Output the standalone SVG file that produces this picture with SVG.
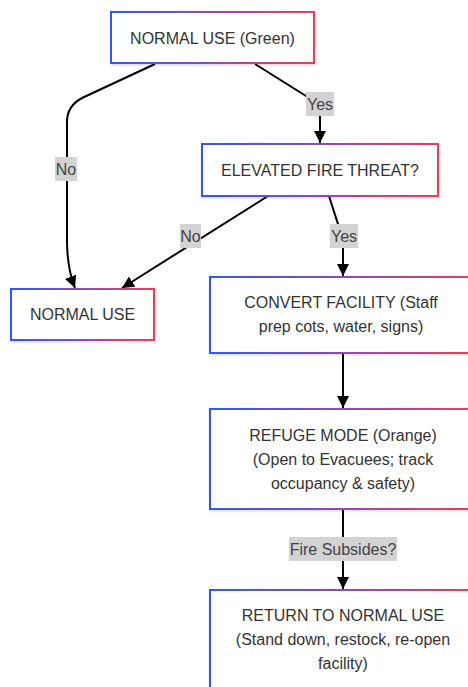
<svg xmlns="http://www.w3.org/2000/svg" width="468" height="687" viewBox="0 0 468 687">
  <defs>
    <linearGradient id="edgeGrad" x1="0" y1="0" x2="1" y2="0">
      <stop offset="0" stop-color="#3557ee"/>
      <stop offset="0.5" stop-color="#8a4fb0"/>
      <stop offset="1" stop-color="#e8405a"/>
    </linearGradient>
    <filter id="shadow" x="-10%" y="-20%" width="120%" height="140%">
      <feDropShadow dx="1" dy="1" stdDeviation="1.5" flood-color="#000" flood-opacity="0.18"/>
    </filter>
    <marker id="arrow" viewBox="0 0 10 10" refX="10" refY="5" markerWidth="12" markerHeight="12" markerUnits="userSpaceOnUse" orient="auto">
      <path d="M0,0 L10,5 L0,10 z" fill="#000"/>
    </marker>
  </defs>
  <style>
    .box { fill: #fff; stroke: url(#edgeGrad); stroke-width: 2; filter: url(#shadow); }
    .txt { font-family: "Liberation Sans", Arial, sans-serif; font-size: 16px; fill: #333; text-anchor: middle; }
    .edge { fill: none; stroke: #000; stroke-width: 2; marker-end: url(#arrow); }
    .lblbg { fill: #d3d3d3; }
    .lbl { font-family: "Liberation Sans", Arial, sans-serif; font-size: 16px; fill: #444; text-anchor: middle; }
  </style>

  <rect width="468" height="687" fill="#fff"/>

  <!-- connectors -->
  <g id="edges">
    <path class="edge" d="M255,64 L306,96 Q320,105 320,118 L320,143"/>
    <path class="edge" d="M155,64 L82,98 Q67,106 67,122 L67,240 Q67,268 75,288"/>
    <path class="edge" d="M268,196 L122,288"/>
    <path class="edge" d="M329,196 L338,224 Q343,234 343,246 L343,276"/>
    <path class="edge" d="M343,353 L343,408"/>
    <path class="edge" d="M343,509 L343,589"/>

    <g id="lbl-yes1">
      <rect class="lblbg" x="306" y="92" width="28" height="24"/>
      <text class="lbl" x="320" y="109.5">Yes</text>
    </g>
    <g id="lbl-no1">
      <rect class="lblbg" x="55" y="157" width="22" height="24"/>
      <text class="lbl" x="66" y="174.5">No</text>
    </g>
    <g id="lbl-no2">
      <rect class="lblbg" x="180" y="224" width="21" height="24"/>
      <text class="lbl" x="190.5" y="241.5">No</text>
    </g>
    <g id="lbl-yes2">
      <rect class="lblbg" x="330" y="224" width="28" height="24"/>
      <text class="lbl" x="344" y="241.5">Yes</text>
    </g>
    <g id="lbl-subsides">
      <rect class="lblbg" x="289" y="537" width="108" height="24"/>
      <text class="lbl" x="343" y="554.5">Fire Subsides?</text>
    </g>
  </g>

  <!-- nodes -->
  <g id="node-normal-green">
    <rect class="box" x="111" y="12" width="203" height="51"/>
    <text class="txt" x="212.5" y="43.5">NORMAL USE (Green)</text>
  </g>

  <g id="node-elevated">
    <rect class="box" x="202" y="144" width="236" height="52"/>
    <text class="txt" x="320" y="175.5">ELEVATED FIRE THREAT?</text>
  </g>

  <g id="node-normal">
    <rect class="box" x="11" y="289" width="143" height="51"/>
    <text class="txt" x="82.5" y="320">NORMAL USE</text>
  </g>

  <g id="node-convert">
    <rect class="box" x="210" y="277" width="266" height="76"/>
    <text class="txt" x="341" y="308">CONVERT FACILITY (Staff</text>
    <text class="txt" x="341" y="332">prep cots, water, signs)</text>
  </g>

  <g id="node-refuge">
    <rect class="box" x="210" y="409" width="266" height="100"/>
    <text class="txt" x="343" y="441">REFUGE MODE (Orange)</text>
    <text class="txt" x="343" y="465">(Open to Evacuees; track</text>
    <text class="txt" x="343" y="489">occupancy &amp; safety)</text>
  </g>

  <g id="node-return">
    <rect class="box" x="210" y="590" width="266" height="100"/>
    <text class="txt" x="343" y="621">RETURN TO NORMAL USE</text>
    <text class="txt" x="343" y="645">(Stand down, restock, re-open</text>
    <text class="txt" x="343" y="669">facility)</text>
  </g>
</svg>
